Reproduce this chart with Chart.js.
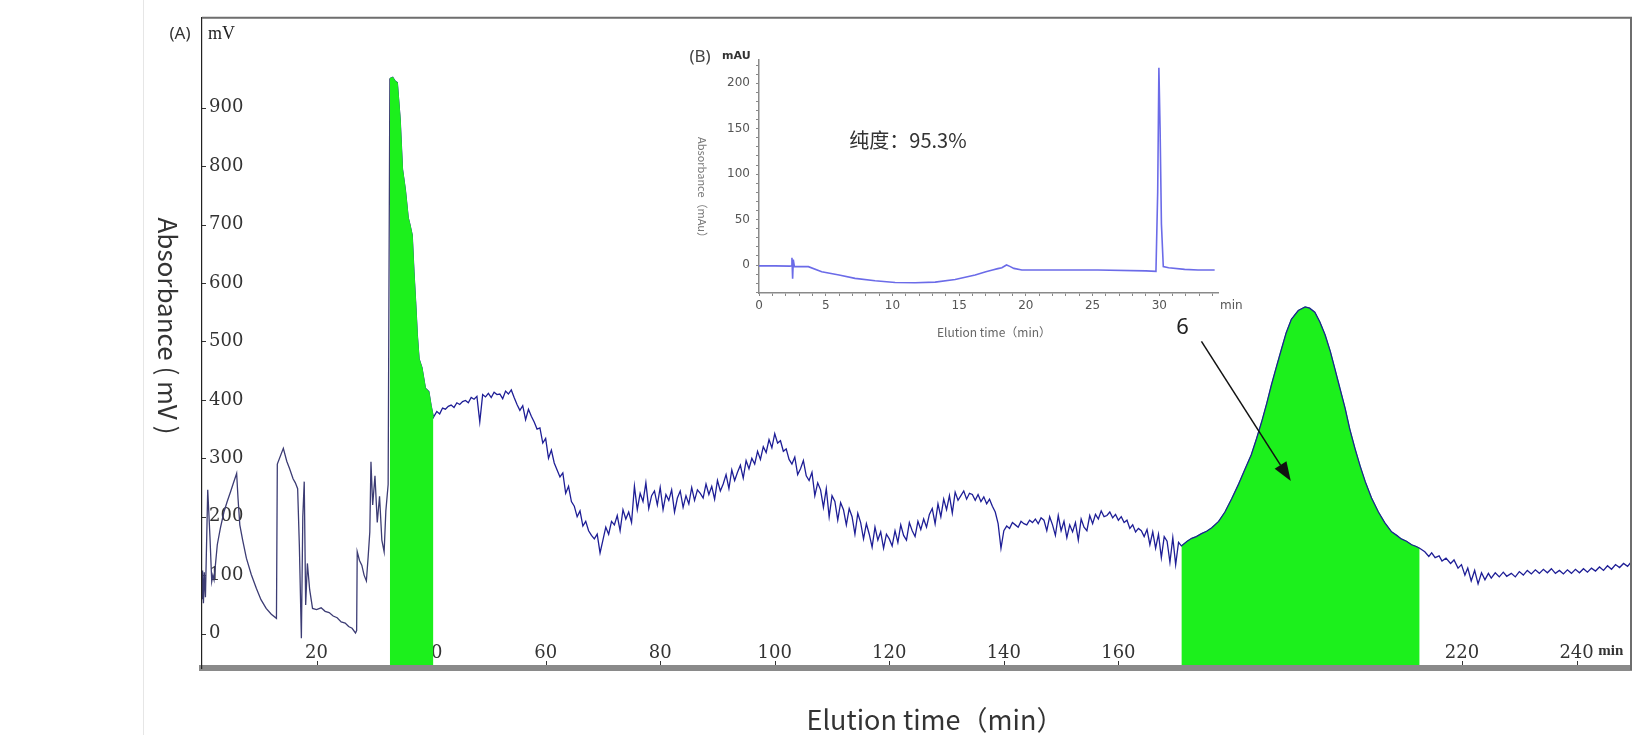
<!DOCTYPE html>
<html><head><meta charset="utf-8">
<script src="https://cdn.jsdelivr.net/npm/chart.js@4.4.1/dist/chart.umd.min.js"></script>
<style>
html,body{margin:0;padding:0;background:#fff;}
#wrap{position:relative;width:1643px;height:735px;overflow:hidden;background:#fff;}
#main{position:absolute;left:0;top:0;}
#inset{position:absolute;left:670px;top:36px;}
#edge{position:absolute;left:143px;top:0;width:1px;height:735px;background:#e6e6e6;}
</style></head><body>
<div id="wrap"><div id="edge"></div>
<canvas id="main" width="1643" height="735"></canvas>
<canvas id="inset" width="580" height="310"></canvas>
</div>
<script>
// ---------- main chromatogram (A): elution time (min) / absorbance (mV) ----------
const elutionTime = [
  0.0,0.1,0.25,0.4,0.6,1.0,1.2,1.4,1.7,1.9,
  2.1,2.67,3.2,3.83,4.4,5.0,5.5,6.05,6.3,6.6,
  7.1,7.75,8.6,9.5,10.3,11.2,12.1,13.0,13.15,14.2,
  14.8,15.3,15.9,16.3,16.7,17.0,17.35,17.6,17.85,18.1,
  18.4,18.8,19.3,20.0,20.8,21.5,22.2,22.9,23.6,24.3,
  25.0,25.6,26.2,26.8,27.0,27.1,27.5,27.9,28.3,28.7,
  29.0,29.3,29.5,29.8,30.2,30.6,31.0,31.4,31.8,32.1,
  32.5,
  32.8,33.3,33.7,34.1,34.6,35.0,35.5,36.0,36.3,36.7,
  37.0,37.3,37.6,37.9,38.4,39.0,39.6,40.0,40.4,
  41.0,41.5,42.0,42.5,43.0,43.5,44.0,44.5,45.0,45.5,
  46.0,46.5,47.0,47.5,48.0,48.5,49.0,49.5,50.0,50.5,
  51.0,51.5,52.0,52.5,53.0,53.5,54.0,54.5,55.0,55.5,
  56.0,56.5,57.0,57.5,58.0,58.5,59.0,59.5,60.0,60.5,
  61.0,61.5,62.0,62.5,63.0,63.5,64.0,64.5,65.0,65.5,
  66.0,66.5,67.0,67.5,68.0,68.5,69.0,69.5,70.0,70.5,
  71.0,71.5,72.0,72.5,73.0,73.5,74.0,74.5,75.0,75.5,
  76.0,76.5,77.0,77.5,78.0,78.5,79.0,79.5,80.0,80.5,
  81.0,81.5,82.0,82.5,83.0,83.5,84.0,84.5,85.0,85.5,
  86.0,86.5,87.0,87.5,88.0,88.5,89.0,89.5,90.0,90.5,
  91.0,91.5,92.0,92.5,93.0,93.5,94.0,94.5,95.0,95.5,
  96.0,96.5,97.0,97.5,98.0,98.5,99.0,99.5,100.0,100.5,
  101.0,101.5,102.0,102.5,103.0,103.5,104.0,104.5,105.0,105.5,
  106.0,106.5,107.0,107.5,108.0,108.5,109.0,109.5,110.0,110.5,
  111.0,111.5,112.0,112.5,113.0,113.5,114.0,114.5,115.0,115.5,
  116.0,116.5,117.0,117.5,118.0,118.5,119.0,119.5,120.0,120.5,
  121.0,121.5,122.0,122.5,123.0,123.5,124.0,124.5,125.0,125.5,
  126.0,126.5,127.0,127.5,128.0,128.5,129.0,129.5,130.0,130.5,
  131.0,131.5,132.0,132.5,133.0,133.5,134.0,134.5,135.0,135.5,
  136.0,136.5,137.0,137.5,138.0,138.5,139.0,139.5,140.0,140.5,
  141.0,141.5,142.0,142.5,143.0,143.5,144.0,144.5,145.0,145.5,
  146.0,146.5,147.0,147.5,148.0,148.5,149.0,149.5,150.0,150.5,
  151.0,151.5,152.0,152.5,153.0,153.5,154.0,154.5,155.0,155.5,
  156.0,156.5,157.0,157.5,158.0,158.5,159.0,159.5,160.0,160.5,
  161.0,161.5,162.0,162.5,163.0,163.5,164.0,164.5,165.0,165.5,
  166.0,166.5,167.0,167.5,168.0,168.5,169.0,169.5,170.0,170.5,
  171.0,172.0,172.8,173.6,174.5,175.4,176.3,177.5,178.6,179.8,
  180.9,182.0,183.2,184.1,185.0,185.9,186.7,187.6,188.5,189.3,
  190.2,191.4,192.6,193.4,194.3,195.2,196.1,197.0,197.8,198.7,
  199.6,200.4,201.3,202.2,203.1,204.2,205.4,206.5,207.7,208.6,
  209.4,210.3,211.2,212.0,212.6,
  213.5,214.2,214.7,215.3,216.0,216.5,217.2,218.0,218.6,219.3,
  219.9,220.5,221.0,221.6,222.2,222.8,223.4,224.0,224.6,225.1,
  225.8,226.5,227.2,227.8,228.6,229.3,230.0,230.7,231.4,232.1,
  232.8,233.5,234.2,234.9,235.6,236.3,237.0,237.7,238.4,239.1,
  239.8,240.5,241.2,241.9,242.6,243.3,244.0,244.7,245.4,246.1,
  246.8,247.5,248.2,248.9,249.5
];
const absorbance = [
  60,108,52,105,62,246,205,163,89,100,
  92,152,180,208,226,243,258,274,230,186,
  160,129,101,77,58,43,33,26,290,317,
  295,282,265,258,248,150,-8,200,260,49,
  120,75,43,41,44,38,36,30,27,20,
  18,12,9,1,5,140,125,117,100,90,
  130,174,294,220,270,190,235,160,140,210,
  255,
  950,952,946,943,880,795,760,712,700,682,
  620,567,510,470,455,420,414,390,370,
  380,376,386,384,389,391,387,395,392,397,
  399,395,404,401,406,362,409,405,411,404,
  413,409,410,402,415,410,417,404,392,382,
  390,366,384,372,362,350,352,326,334,300,
  314,292,280,268,275,240,252,226,218,200,
  210,184,192,176,168,162,170,138,160,182,
  170,192,186,202,176,212,196,208,190,252,
  212,240,226,258,214,236,244,220,250,212,
  238,228,246,208,232,244,216,236,222,250,
  228,246,240,232,256,238,252,230,262,244,
  256,272,248,280,262,276,288,266,296,282,
  300,290,312,298,320,310,332,318,342,326,
  330,312,316,298,290,302,272,282,296,270,
  262,276,236,258,246,216,248,200,236,226,
  194,224,212,186,214,200,170,206,190,162,
  188,170,148,182,160,174,146,170,162,150,
  176,156,186,168,160,190,176,166,192,178,
  196,182,204,214,188,222,200,230,212,236,
  206,242,228,236,244,230,240,238,228,238,
  226,234,222,230,218,208,188,146,176,184,
  180,190,186,182,192,188,186,194,190,196,
  188,198,194,176,200,186,168,202,176,192,
  164,186,174,190,160,196,182,176,202,188,
  204,196,210,200,202,208,198,204,194,200,
  190,194,180,186,174,180,176,166,178,152,
  174,146,170,130,166,158,122,164,118,156,
  150,158,163,166,171,175,181,192,208,231,
  254,279,306,333,362,394,425,457,488,515,
  538,553,559,557,550,533,511,483,453,419,
  385,350,317,287,260,232,208,190,174,168,
  162,158,152,149,146,
  140,132,138,130,133,124,129,120,126,112,
  118,100,112,90,108,85,104,92,103,95,
  104,97,105,98,103,97,106,100,108,102,
  109,103,110,104,111,103,108,102,109,103,
  110,104,111,105,112,107,114,108,116,110,
  118,113,120,115,122
];
// collected fractions (green areas), in minutes
const fractionWindows = [[32.8, 40.4], [171.0, 212.6]];
const xTickLabels = [20,40,60,80,100,120,140,160,180,200,220,240];
const yTickLabels = [0,100,200,300,400,500,600,700,800,900];
// annotation "6" and its arrow, in data units (min, mV)
const peakLabel = '6';
const peakLabelAt = [171.2, 523];
const arrowFrom = [174.5, 500];
const arrowTo = [190.1, 261];

// ---------- inset (B): analytical HPLC of fraction 6 ----------
const insetTime = [0,1.2,2.3,2.42,2.47,2.52,2.57,2.65,3.0,3.7,
  4.7,6.0,7.2,8.7,10.2,11.7,13.2,14.7,16.2,17.0,
  17.5,17.9,18.2,18.55,18.8,19.1,19.7,21.7,25.4,29.0,
  29.75,29.88,29.97,30.06,30.16,30.3,30.7,31.9,32.9,34.15];
const insetAbsorbance = [-1,-1,-1.2,-1,8,-15,6,-1.5,-1.8,-1.8,
  -7.4,-11,-14.7,-17.3,-19.2,-19.6,-18.8,-15.9,-11,-7.5,
  -5.5,-4.0,-3,0,-1.5,-3.7,-5.5,-5.5,-5.5,-6.5,
  -7,80,217,150,45,-1.8,-3,-4.8,-5.5,-5.5];
const insetXTicks = [0,5,10,15,20,25,30];
const insetYTicks = [0,50,100,150,200];
const purityText = '纯度：95.3%';

// ---------- build ----------
const GREEN = '#1cf01c';
const NAVY = '#1e1e96';
const tracePts = elutionTime.map((t, i) => ({x: t, y: absorbance[i]}));
const windowPts = w => tracePts.filter(p => p.x >= w[0] && p.x <= w[1]);

const mainDecor = {
  id: 'mainDecor',
  beforeDatasetsDraw(chart) {
    const {ctx, chartArea: a, scales: {x, y}} = chart;
    ctx.save();
    ctx.strokeStyle = '#333'; ctx.lineWidth = 1;
    ctx.beginPath();
    y.ticks.forEach(t => {
      const p = Math.round(y.getPixelForValue(t.value)) + 0.5;
      ctx.moveTo(a.left, p); ctx.lineTo(a.left + 4, p);
    });
    x.ticks.forEach(t => {
      const p = Math.round(x.getPixelForValue(t.value)) + 0.5;
      ctx.moveTo(p, a.bottom); ctx.lineTo(p, a.bottom - 7);
    });
    ctx.stroke();
    ctx.restore();
  },
  afterDraw(chart) {
    const {ctx, chartArea: a, scales: {x, y}} = chart;
    ctx.save();
    // top and right frame
    ctx.strokeStyle = '#6e6e6e'; ctx.lineWidth = 2;
    ctx.beginPath();
    ctx.moveTo(a.left, a.top); ctx.lineTo(a.right, a.top); ctx.lineTo(a.right, a.bottom + 2);
    ctx.stroke();
    // panel letter and unit
    ctx.fillStyle = '#333';
    ctx.textBaseline = 'middle';
    ctx.textAlign = 'center';
    ctx.font = '17px "Noto Sans", "DejaVu Sans", sans-serif';
    ctx.fillText('(A)', a.left - 22, a.top + 16);
    ctx.textAlign = 'left';
    ctx.font = '18px "Liberation Serif", serif';
    ctx.fillStyle = '#222';
    ctx.fillText('mV', a.left + 6, a.top + 16);
    ctx.font = 'bold 15px "Liberation Serif", serif';
    ctx.fillStyle = '#333';
    ctx.fillText('min', x.getPixelForValue(243.8), a.bottom - 17);
    // axis titles
    ctx.fillStyle = '#333';
    ctx.textAlign = 'center';
    ctx.font = '27px "Noto Sans CJK SC", "Noto Sans", sans-serif';
    ctx.fillText('Elution time（min）', 935, 720);
    ctx.save();
    ctx.font = '26px "Noto Sans CJK SC", "Noto Sans", sans-serif';
    ctx.translate(168, 326);
    ctx.rotate(Math.PI / 2);
    ctx.fillText('Absorbance ( mV )', 0, 0);
    ctx.restore();
    // peak 6 annotation
    ctx.fillStyle = '#222';
    ctx.font = '22px "Noto Sans", "DejaVu Sans", sans-serif';
    ctx.fillText(peakLabel, x.getPixelForValue(peakLabelAt[0]), y.getPixelForValue(peakLabelAt[1]));
    const sx = x.getPixelForValue(arrowFrom[0]), sy = y.getPixelForValue(arrowFrom[1]);
    const tx = x.getPixelForValue(arrowTo[0]), ty = y.getPixelForValue(arrowTo[1]);
    const len = Math.hypot(tx - sx, ty - sy), ux = (tx - sx) / len, uy = (ty - sy) / len;
    const hl = 19, hw = 7;
    ctx.strokeStyle = '#111'; ctx.lineWidth = 1.5;
    ctx.beginPath(); ctx.moveTo(sx, sy); ctx.lineTo(tx - ux * hl, ty - uy * hl); ctx.stroke();
    ctx.fillStyle = '#111';
    ctx.beginPath();
    ctx.moveTo(tx, ty);
    ctx.lineTo(tx - ux * hl - uy * hw, ty - uy * hl + ux * hw);
    ctx.lineTo(tx - ux * hl + uy * hw, ty - uy * hl - ux * hw);
    ctx.closePath(); ctx.fill();
    ctx.restore();
  }
};

new Chart(document.getElementById('main'), {
  type: 'line',
  data: {
    datasets: [
      {label: 'Fraction 1', data: windowPts(fractionWindows[0]), fill: 'start',
       backgroundColor: GREEN, borderColor: GREEN, borderWidth: 1, pointRadius: 0, order: 0},
      {label: 'Absorbance', data: tracePts, borderColor: NAVY, borderWidth: 1.3, pointRadius: 0,
       fill: false, order: 1,
       segment: {borderColor: c => c.p1.parsed.x <= 32.8 ? '#3c3c74' : undefined}},
      {label: 'Fraction 6', data: windowPts(fractionWindows[1]), fill: 'start',
       backgroundColor: GREEN, borderColor: GREEN, borderWidth: 1, pointRadius: 0, order: 2}
    ]
  },
  options: {
    responsive: false, animation: false,
    layout: {padding: {left: 0, top: 16, right: 12, bottom: 0}},
    elements: {line: {tension: 0}},
    plugins: {legend: {display: false}, tooltip: {enabled: false}},
    scales: {
      x: {
        type: 'linear', min: 0, max: 249.5,
        afterFit: s => { s.height = 67; },
        afterBuildTicks: s => { s.ticks = xTickLabels.map(v => ({value: v})); },
        grid: {display: false},
        border: {display: true, color: '#8a8a8a', width: 6, z: 1},
        ticks: {autoSkip: false, maxRotation: 0, mirror: true, padding: 4, color: '#333',
                font: {family: '"DejaVu Serif", serif', size: 18},
                callback: v => String(v)}
      },
      y: {
        type: 'linear', min: -59, max: 1054,
        afterFit: s => { s.width = 202; },
        afterBuildTicks: s => { s.ticks = yTickLabels.map(v => ({value: v})); },
        grid: {display: false},
        border: {display: true, color: '#222', width: 1.2, z: 1},
        ticks: {mirror: true, padding: 7, color: '#333',
                font: {family: '"DejaVu Serif", serif', size: 18},
                callback: v => String(v)}
      }
    }
  },
  plugins: [mainDecor]
});

// ---------- inset ----------
const insetMinorX = Array.from({length: 35}, (_, i) => i);
const insetMinorY = Array.from({length: 26}, (_, i) => -30 + i * 10);

const insetDecor = {
  id: 'insetDecor',
  afterDraw(chart) {
    const {ctx, chartArea: a} = chart;
    ctx.save();
    ctx.textBaseline = 'middle';
    ctx.textAlign = 'center';
    ctx.fillStyle = '#444';
    ctx.font = '17px "Noto Sans", "DejaVu Sans", sans-serif';
    ctx.fillText('(B)', a.left - 59, a.top - 3);
    ctx.textAlign = 'left';
    ctx.fillStyle = '#333';
    ctx.font = 'bold 11px "DejaVu Sans", sans-serif';
    ctx.fillText('mAU', a.left - 37, a.top - 4);
    ctx.font = '20px "Noto Sans CJK SC", sans-serif';
    ctx.textAlign = 'center';
    ctx.fillText(purityText, 238, 104);
    ctx.fillStyle = '#666';
    ctx.font = '12px "Noto Sans CJK SC", "DejaVu Sans", sans-serif';
    ctx.fillText('Elution time（min）', 324, 296);
    ctx.fillStyle = '#555';
    ctx.font = '12px "DejaVu Sans", sans-serif';
    ctx.textAlign = 'left';
    ctx.fillText('min', a.right + 2, 270);
    ctx.fillStyle = '#777';
    ctx.font = '11px "Noto Sans CJK SC", "DejaVu Sans", sans-serif';
    ctx.textAlign = 'center';
    ctx.translate(32, 154);
    ctx.rotate(Math.PI / 2);
    ctx.fillText('Absorbance（mAu）', 0, 0);
    ctx.restore();
  }
};

new Chart(document.getElementById('inset'), {
  type: 'line',
  data: {
    datasets: [{label: 'Fraction 6 HPLC',
      data: insetTime.map((t, i) => ({x: t, y: insetAbsorbance[i]})),
      borderColor: '#6b6be8', borderWidth: 1.6, pointRadius: 0, fill: false, tension: 0}]
  },
  options: {
    responsive: false, animation: false,
    layout: {padding: {left: 0, top: 24, right: 32, bottom: 0}},
    plugins: {legend: {display: false}, tooltip: {enabled: false}},
    scales: {
      x: {
        type: 'linear', min: 0, max: 34.4,
        afterFit: s => { s.height = 53; },
        afterBuildTicks: s => { s.ticks = insetMinorX.map(v => ({value: v})); },
        grid: {display: true, drawOnChartArea: false, drawTicks: true, tickLength: 3, color: '#888'},
        border: {display: true, color: '#8a8a8a', width: 1.5},
        ticks: {autoSkip: false, maxRotation: 0, padding: 3, color: '#555',
                font: {family: '"DejaVu Sans", sans-serif', size: 12},
                callback: v => insetXTicks.includes(v) ? String(v) : ''}
      },
      y: {
        type: 'linear', min: -30.8, max: 225.6,
        afterFit: s => { s.width = 89; },
        afterBuildTicks: s => { s.ticks = insetMinorY.map(v => ({value: v})); },
        grid: {display: true, drawOnChartArea: false, drawTicks: true, tickLength: 3, color: '#888'},
        border: {display: true, color: '#8a8a8a', width: 1.5},
        ticks: {autoSkip: false, padding: 6, color: '#555',
                font: {family: '"DejaVu Sans", sans-serif', size: 12},
                callback: v => insetYTicks.includes(v) ? String(v) : ''}
      }
    }
  },
  plugins: [insetDecor]
});
</script>
</body></html>
